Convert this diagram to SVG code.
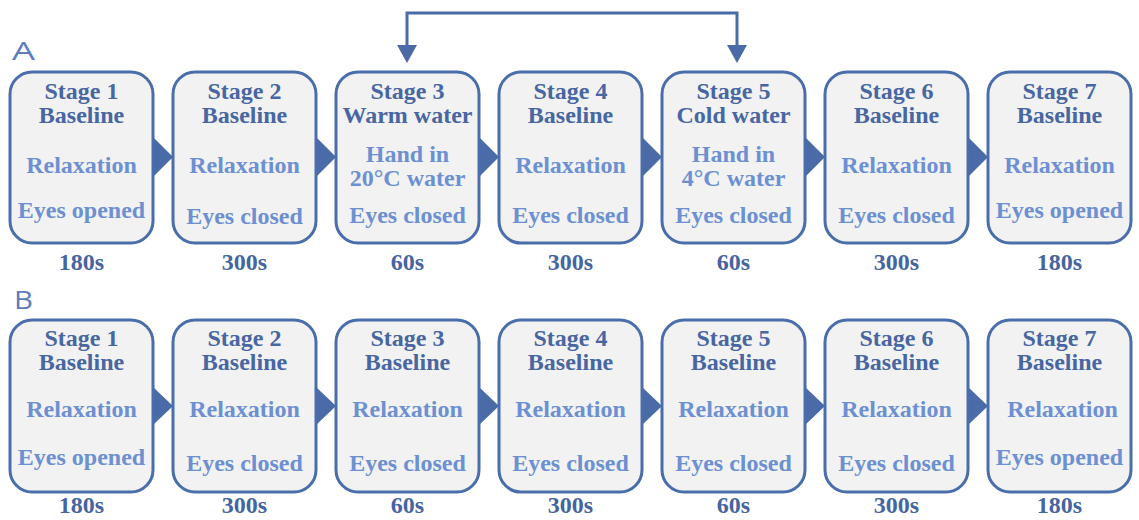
<svg xmlns="http://www.w3.org/2000/svg" width="1139" height="520" viewBox="0 0 1139 520">
<defs>
<style>
.box{fill:#f2f2f2;stroke:#4a6dab;stroke-width:3}
.t{font-family:"Liberation Serif","Times New Roman",serif;font-weight:bold;font-size:24px;text-anchor:middle}
.d{fill:#4766a2}
.l{fill:#6c90d2}
.dur{font-family:"Liberation Serif","Times New Roman",serif;font-weight:bold;font-size:24px;text-anchor:middle;fill:#4565a0}
.lab{font-family:"Open Sans","Liberation Sans",sans-serif;font-weight:400;font-size:25px;fill:#5d7dba}
.tri{fill:#4a6aa8}
.ln{fill:none;stroke:#4a6aa8;stroke-width:3}
</style>
</defs>
<text class="lab" x="12" y="60" textLength="23" lengthAdjust="spacingAndGlyphs">A</text>
<text class="lab" x="14" y="309" textLength="19" lengthAdjust="spacingAndGlyphs">B</text>
<g id="connectors">
<polygon class="tri" points="153,137 173,157 153,177"/>
<polygon class="tri" points="316,137 336,157 316,177"/>
<polygon class="tri" points="479,137 499,157 479,177"/>
<polygon class="tri" points="642,137 662,157 642,177"/>
<polygon class="tri" points="805,137 825,157 805,177"/>
<polygon class="tri" points="968,137 988,157 968,177"/>
<polygon class="tri" points="153,387 173,406 153,425"/>
<polygon class="tri" points="316,387 336,406 316,425"/>
<polygon class="tri" points="479,387 499,406 479,425"/>
<polygon class="tri" points="642,387 662,406 642,425"/>
<polygon class="tri" points="805,387 825,406 805,425"/>
<polygon class="tri" points="968,387 988,406 968,425"/>
<path class="ln" d="M407,46 V13 H737 V46"/>
<polygon class="tri" points="397,45 417,45 407,63"/>
<polygon class="tri" points="727,45 747,45 737,63"/>
</g>
<g id="A1"><rect class="box" x="10" y="72" width="143" height="171" rx="22"/>
<text class="t d" x="81.5" y="99">Stage 1</text><text class="t d" x="81.5" y="123">Baseline</text>
<text class="t l" x="81.5" y="173">Relaxation</text><text class="t l" x="81.5" y="218">Eyes opened</text>
<text class="dur" x="81.5" y="270">180s</text></g>
<g id="A2"><rect class="box" x="173" y="72" width="143" height="171" rx="22"/>
<text class="t d" x="244.5" y="99">Stage 2</text><text class="t d" x="244.5" y="123">Baseline</text>
<text class="t l" x="244.5" y="173">Relaxation</text><text class="t l" x="244.5" y="224">Eyes closed</text>
<text class="dur" x="244.5" y="270">300s</text></g>
<g id="A3"><rect class="box" x="336" y="72" width="143" height="171" rx="22"/>
<text class="t d" x="407.5" y="99">Stage 3</text><text class="t d" x="407.5" y="123">Warm water</text>
<text class="t l" x="407.5" y="162">Hand in</text><text class="t l" x="407.5" y="186">20°C water</text>
<text class="t l" x="407.5" y="223">Eyes closed</text>
<text class="dur" x="407.5" y="270">60s</text></g>
<g id="A4"><rect class="box" x="499" y="72" width="143" height="171" rx="22"/>
<text class="t d" x="570.5" y="99">Stage 4</text><text class="t d" x="570.5" y="123">Baseline</text>
<text class="t l" x="570.5" y="173">Relaxation</text><text class="t l" x="570.5" y="223">Eyes closed</text>
<text class="dur" x="570.5" y="270">300s</text></g>
<g id="A5"><rect class="box" x="662" y="72" width="143" height="171" rx="22"/>
<text class="t d" x="733.5" y="99">Stage 5</text><text class="t d" x="733.5" y="123">Cold water</text>
<text class="t l" x="733.5" y="162">Hand in</text><text class="t l" x="733.5" y="186">4°C water</text>
<text class="t l" x="733.5" y="223">Eyes closed</text>
<text class="dur" x="733.5" y="270">60s</text></g>
<g id="A6"><rect class="box" x="825" y="72" width="143" height="171" rx="22"/>
<text class="t d" x="896.5" y="99">Stage 6</text><text class="t d" x="896.5" y="123">Baseline</text>
<text class="t l" x="896.5" y="173">Relaxation</text><text class="t l" x="896.5" y="223">Eyes closed</text>
<text class="dur" x="896.5" y="270">300s</text></g>
<g id="A7"><rect class="box" x="988" y="72" width="143" height="171" rx="22"/>
<text class="t d" x="1059.5" y="99">Stage 7</text><text class="t d" x="1059.5" y="123">Baseline</text>
<text class="t l" x="1059.5" y="173">Relaxation</text><text class="t l" x="1059.5" y="218">Eyes opened</text>
<text class="dur" x="1059.5" y="270">180s</text></g>
<g id="B1"><rect class="box" x="10" y="320" width="143" height="172" rx="22"/>
<text class="t d" x="81.5" y="346">Stage 1</text><text class="t d" x="81.5" y="370">Baseline</text>
<text class="t l" x="81.5" y="417">Relaxation</text><text class="t l" x="81.5" y="465">Eyes opened</text>
<text class="dur" x="81.5" y="513">180s</text></g>
<g id="B2"><rect class="box" x="173" y="320" width="143" height="172" rx="22"/>
<text class="t d" x="244.5" y="346">Stage 2</text><text class="t d" x="244.5" y="370">Baseline</text>
<text class="t l" x="244.5" y="417">Relaxation</text><text class="t l" x="244.5" y="471">Eyes closed</text>
<text class="dur" x="244.5" y="513">300s</text></g>
<g id="B3"><rect class="box" x="336" y="320" width="143" height="172" rx="22"/>
<text class="t d" x="407.5" y="346">Stage 3</text><text class="t d" x="407.5" y="370">Baseline</text>
<text class="t l" x="407.5" y="417">Relaxation</text><text class="t l" x="407.5" y="471">Eyes closed</text>
<text class="dur" x="407.5" y="513">60s</text></g>
<g id="B4"><rect class="box" x="499" y="320" width="143" height="172" rx="22"/>
<text class="t d" x="570.5" y="346">Stage 4</text><text class="t d" x="570.5" y="370">Baseline</text>
<text class="t l" x="570.5" y="417">Relaxation</text><text class="t l" x="570.5" y="471">Eyes closed</text>
<text class="dur" x="570.5" y="513">300s</text></g>
<g id="B5"><rect class="box" x="662" y="320" width="143" height="172" rx="22"/>
<text class="t d" x="733.5" y="346">Stage 5</text><text class="t d" x="733.5" y="370">Baseline</text>
<text class="t l" x="733.5" y="417">Relaxation</text><text class="t l" x="733.5" y="471">Eyes closed</text>
<text class="dur" x="733.5" y="513">60s</text></g>
<g id="B6"><rect class="box" x="825" y="320" width="143" height="172" rx="22"/>
<text class="t d" x="896.5" y="346">Stage 6</text><text class="t d" x="896.5" y="370">Baseline</text>
<text class="t l" x="896.5" y="417">Relaxation</text><text class="t l" x="896.5" y="471">Eyes closed</text>
<text class="dur" x="896.5" y="513">300s</text></g>
<g id="B7"><rect class="box" x="988" y="320" width="143" height="172" rx="22"/>
<text class="t d" x="1059.5" y="346">Stage 7</text><text class="t d" x="1059.5" y="370">Baseline</text>
<text class="t l" x="1062.5" y="417">Relaxation</text><text class="t l" x="1059.5" y="465">Eyes opened</text>
<text class="dur" x="1059.5" y="513">180s</text></g>
</svg>
